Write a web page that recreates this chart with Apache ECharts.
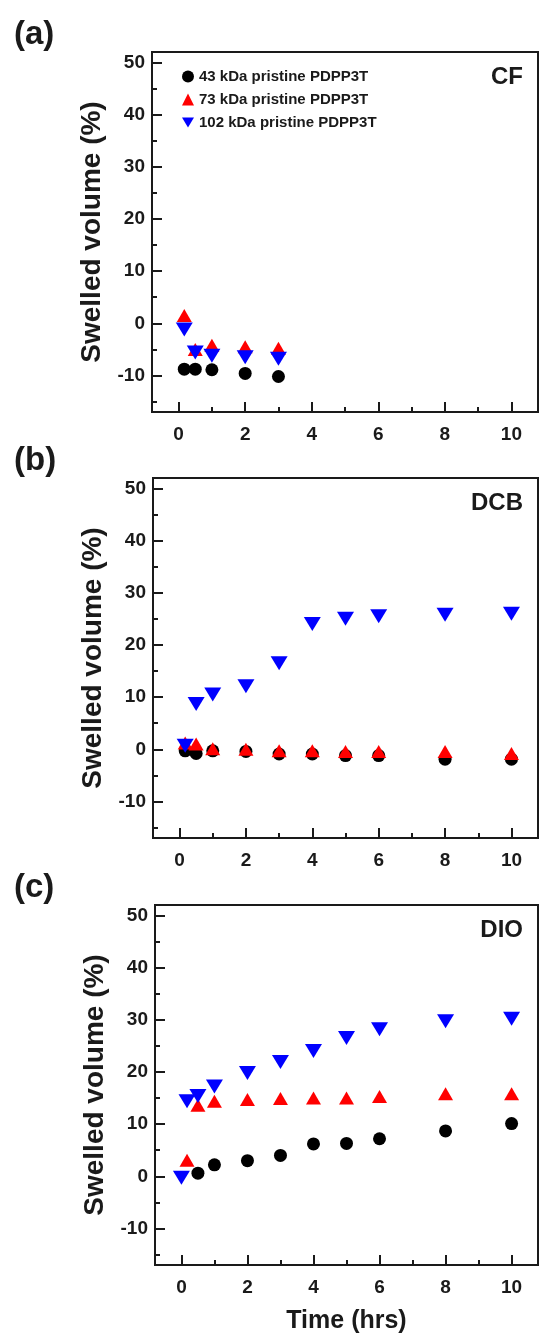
<!DOCTYPE html>
<html>
<head>
<meta charset="utf-8">
<script src="https://cdn.jsdelivr.net/npm/echarts@6/dist/echarts.min.js"></script>
<style>
html,body{margin:0;padding:0;background:#fff;}
#chart{width:540px;height:1335px;}
</style>
</head>
<body>
<div id="chart"></div>
<script>
// ---------- data ----------
const seriesNames = ['43 kDa pristine PDPP3T', '73 kDa pristine PDPP3T', '102 kDa pristine PDPP3T'];
const panelLabels = ['(a)', '(b)', '(c)'];
const solventLabels = ['CF', 'DCB', 'DIO'];
const xTickLabels = [0, 2, 4, 6, 8, 10];
const xMinorTicks = [1, 3, 5, 7, 9];
const yTickLabels = [-10, 0, 10, 20, 30, 40, 50];
const yMinorTicks = [-15, -5, 5, 15, 25, 35, 45];
const yAxisTitle = 'Swelled volume (%)';
const xAxisTitle = 'Time (hrs)';

// (a) CF
const cfTime   = [0.17, 0.5, 1, 2, 3];
const cf43     = [-8.8, -8.8, -8.9, -9.6, -10.2];
const cf73     = [1.5, -5.0, -4.2, -4.5, -4.8];
const cf102    = [-1.2, -5.6, -6.2, -6.5, -6.8];

// (b) DCB
const dcbTime  = [0.17, 0.5, 1, 2, 3, 4, 5, 6, 8, 10];
const dcb43    = [-0.3, -0.8, -0.3, -0.4, -0.9, -0.9, -1.2, -1.2, -1.9, -1.9];
const dcb73    = [1.2, 1.0, 0.1, 0.0, -0.3, -0.3, -0.4, -0.4, -0.4, -0.8];
const dcb102   = [0.7, 8.7, 10.5, 12.1, 16.5, 24.0, 25.0, 25.5, 25.8, 26.0];

// (c) DIO
const dio43Time  = [0.5, 1, 2, 3, 4, 5, 6, 8, 10];
const dio43      = [0.6, 2.2, 3.0, 4.0, 6.2, 6.3, 7.2, 8.7, 10.1];
const dio73Time  = [0.17, 0.5, 1, 2, 3, 4, 5, 6, 8, 10];
const dio73      = [3.1, 13.6, 14.4, 14.7, 14.9, 15.0, 15.0, 15.3, 15.8, 15.8];
const dio102Time = [0, 0.17, 0.5, 1, 2, 3, 4, 5, 6, 8, 10];
const dio102     = [-0.3, 14.4, 15.4, 17.2, 19.8, 21.9, 24.0, 26.5, 28.2, 29.7, 30.2];

// ---------- layout / style ----------
const FONT = '"Liberation Sans", Arial, sans-serif';
const INK = '#1a1a1a';
const X_MIN = -0.8, X_MAX = 10.8, Y_MIN = -17, Y_MAX = 52;
const panelTops = [52, 478, 905];
const panelLefts = [152, 153, 155];
const panelHeight = 360;
const colors = ['#000000', '#ff0000', '#0000ff'];

const panels = [
  { xs: [cfTime, cfTime, cfTime], ys: [cf43, cf73, cf102] },
  { xs: [dcbTime, dcbTime, dcbTime], ys: [dcb43, dcb73, dcb102] },
  { xs: [dio43Time, dio73Time, dio102Time], ys: [dio43, dio73, dio102] }
];

const zip = (xs, ys) => xs.map((x, i) => [x, ys[i]]);

const grids = [], xAxes = [], yAxes = [], series = [], graphics = [];

panels.forEach((p, k) => {
  grids.push({
    left: panelLefts[k], right: 2, top: panelTops[k], height: panelHeight,
    show: true, borderColor: INK, borderWidth: 2, backgroundColor: '#fff'
  });
  // main x axis
  xAxes.push({
    type: 'value', gridIndex: k, min: X_MIN, max: X_MAX, position: 'bottom',
    axisLine: { show: true, onZero: false, lineStyle: { color: INK, width: 2 } },
    axisTick: { show: true, inside: true, length: 10, customValues: xTickLabels, lineStyle: { color: INK, width: 2 } },
    axisLabel: { show: true, customValues: xTickLabels, margin: 13, color: INK, fontFamily: FONT, fontWeight: 'bold', fontSize: 19 },
    splitLine: { show: false },
    name: k === 2 ? xAxisTitle : '',
    nameLocation: 'middle', nameGap: 44,
    nameTextStyle: { color: INK, fontFamily: FONT, fontWeight: 'bold', fontSize: 25 }
  });
  // minor x ticks
  xAxes.push({
    type: 'value', gridIndex: k, min: X_MIN, max: X_MAX, position: 'bottom',
    axisLine: { show: false, onZero: false },
    axisTick: { show: true, inside: true, length: 5, customValues: xMinorTicks, lineStyle: { color: INK, width: 2 } },
    axisLabel: { show: false },
    splitLine: { show: false }
  });
  // main y axis
  yAxes.push({
    type: 'value', gridIndex: k, min: Y_MIN, max: Y_MAX, position: 'left',
    axisLine: { show: true, onZero: false, lineStyle: { color: INK, width: 2 } },
    axisTick: { show: true, inside: true, length: 10, customValues: yTickLabels, lineStyle: { color: INK, width: 2 } },
    axisLabel: { show: true, customValues: yTickLabels, margin: 7, color: INK, fontFamily: FONT, fontWeight: 'bold', fontSize: 19 },
    splitLine: { show: false },
    name: yAxisTitle, nameLocation: 'middle', nameRotate: 90, nameGap: 45,
    nameTextStyle: { color: INK, fontFamily: FONT, fontWeight: 'bold', fontSize: 28 }
  });
  // minor y ticks
  yAxes.push({
    type: 'value', gridIndex: k, min: Y_MIN, max: Y_MAX, position: 'left',
    axisLine: { show: false, onZero: false },
    axisTick: { show: true, inside: true, length: 5, customValues: yMinorTicks, lineStyle: { color: INK, width: 2 } },
    axisLabel: { show: false },
    splitLine: { show: false }
  });

  const symbols = ['circle', 'triangle', 'triangle'];
  const sizes = [13, [15, 13], [17, 14]];
  const rots = [0, 0, 180];
  for (let s = 0; s < 3; s++) {
    series.push({
      name: seriesNames[s], type: 'scatter',
      xAxisIndex: 2 * k, yAxisIndex: 2 * k,
      symbol: symbols[s], symbolSize: sizes[s], symbolRotate: rots[s],
      itemStyle: { color: colors[s], opacity: 1 },
      z: 2 + s,
      data: zip(p.xs[s], p.ys[s])
    });
  }

  graphics.push({
    type: 'text', left: 14, top: panelTops[k] - 34,
    style: { text: panelLabels[k], fill: INK, font: 'bold 33px ' + FONT }
  });
  graphics.push({
    type: 'text', right: 17, top: panelTops[k] + 13,
    style: { text: solventLabels[k], fill: INK, font: 'bold 24px ' + FONT }
  });
});

const chart = echarts.init(document.getElementById('chart'), null, { renderer: 'canvas' });
chart.setOption({
  animation: false,
  backgroundColor: '#ffffff',
  grid: grids,
  xAxis: xAxes,
  yAxis: yAxes,
  legend: {
    show: true, orient: 'vertical', left: 177, top: 64,
    itemWidth: 12, itemHeight: 12, itemGap: 8,
    textStyle: { color: INK, fontFamily: FONT, fontWeight: 'bold', fontSize: 15, lineHeight: 15 },
    data: [
      { name: seriesNames[0], icon: 'circle' },
      { name: seriesNames[1], icon: 'triangle' },
      { name: seriesNames[2], icon: 'path://M0,0 L12,0 L6,10 Z' }
    ]
  },
  graphic: graphics,
  series: series
});
</script>
</body>
</html>
